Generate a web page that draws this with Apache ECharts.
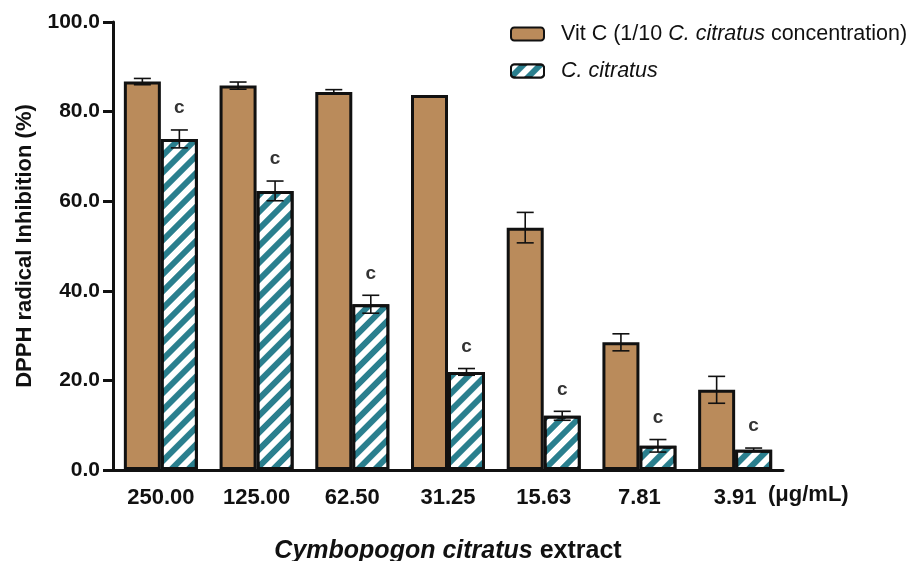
<!DOCTYPE html>
<html>
<head>
<meta charset="utf-8">
<script src="https://cdn.jsdelivr.net/npm/echarts@6/dist/echarts.min.js"></script>
<style>html,body{margin:0;padding:0;background:#fff}#c{width:916px;height:561px}</style>
</head>
<body>
<div id="c"></div>
<script>
var categories = ['250.00', '125.00', '62.50', '31.25', '15.63', '7.81', '3.91'];
var vitCMean = [86.7, 85.8, 84.4, 83.7, 54.1, 28.5, 17.9];
var vitCSD   = [0.7, 0.8, 0.5, 0.0, 3.4, 1.9, 3.0];
var citMean  = [73.9, 62.3, 37.0, 21.9, 12.1, 5.4, 4.5];
var citSD    = [2.0, 2.2, 2.0, 0.75, 1.0, 1.4, 0.4];
var sigLabels = ['c', 'c', 'c', 'c', 'c', 'c', 'c'];

var FONT = 'Liberation Sans, Arial, sans-serif';
var BROWN = '#BA8B5B';
var TEAL = '#2A7F8E';
var BAR_W = 37;

function errData(mean, sd) {
  return mean.map(function (m, i) { return [i, m, sd[i]]; });
}

function makeErr(offset, withSig) {
  return function (params, api) {
    var i = api.value(0), m = api.value(1), s = api.value(2);
    var top = api.coord([i, m + s]);
    var bot = api.coord([i, m - s]);
    var x = top[0] + offset;
    var cap = 8.5;
    var children = [];
    if (s > 0) {
      children.push(
        {type: 'line', shape: {x1: x, y1: top[1], x2: x, y2: bot[1]}, style: {stroke: '#111', lineWidth: 1.6}},
        {type: 'line', shape: {x1: x - cap, y1: top[1], x2: x + cap, y2: top[1]}, style: {stroke: '#111', lineWidth: 1.6}},
        {type: 'line', shape: {x1: x - cap, y1: bot[1], x2: x + cap, y2: bot[1]}, style: {stroke: '#111', lineWidth: 1.6}}
      );
    }
    if (withSig) {
      children.push({type: 'text', style: {text: sigLabels[i], x: x, y: top[1] - 22,
        textAlign: 'center', textVerticalAlign: 'middle',
        font: 'bold 19px ' + FONT, fill: '#333'}});
    }
    return {type: 'group', children: children};
  };
}

var chart = echarts.init(document.getElementById('c'), null, {renderer: 'canvas'});
chart.setOption({
  animation: false,
  backgroundColor: '#fff',
  grid: {left: 113, right: 133, top: 22, bottom: 91, containLabel: false, outerBoundsMode: 'none'},
  legend: {
    orient: 'vertical', left: 505, top: 18, itemWidth: 33, itemHeight: 13, itemGap: 15,
    data: ['Vit C', 'C. citratus'],
    formatter: function (n) {
      return n === 'Vit C' ? '{n|Vit C (1/10 }{i|C. citratus}{n| concentration)}' : '{i|C. citratus}';
    },
    textStyle: {
      fontFamily: FONT, fontSize: 21.5, color: '#111', padding: [0, 0, 0, 12],
      rich: {
        n: {fontFamily: FONT, fontSize: 21.5, color: '#111'},
        i: {fontFamily: FONT, fontSize: 21.5, fontStyle: 'italic', color: '#111'}
      }
    }
  },
  xAxis: {
    type: 'category', data: categories,
    axisLine: {lineStyle: {color: '#111', width: 3}},
    axisTick: {alignWithLabel: true, length: 8, lineStyle: {color: '#111', width: 3}},
    axisLabel: {fontFamily: FONT, fontSize: 22, fontWeight: 'bold', color: '#111', margin: 17},
    name: '{i|Cymbopogon citratus}{b| extract}',
    nameLocation: 'middle', nameGap: 69,
    nameTextStyle: {
      rich: {
        i: {fontFamily: FONT, fontSize: 25, fontWeight: 'bold', fontStyle: 'italic', color: '#111'},
        b: {fontFamily: FONT, fontSize: 25, fontWeight: 'bold', color: '#111'}
      }
    }
  },
  yAxis: {
    type: 'value', min: 0, max: 100, interval: 20,
    axisLine: {show: true, lineStyle: {color: '#111', width: 3}},
    axisTick: {show: true, length: 10, lineStyle: {color: '#111', width: 3}},
    splitLine: {show: false},
    axisLabel: {fontFamily: FONT, fontSize: 21, fontWeight: 'bold', color: '#111', margin: 13,
      formatter: function (v) { return v.toFixed(1); }},
    name: 'DPPH radical Inhibition (%)',
    nameLocation: 'middle', nameGap: 77,
    nameTextStyle: {fontFamily: FONT, fontSize: 22, fontWeight: 'bold', color: '#111'}
  },
  graphic: [{
    type: 'text', left: 768, top: 484,
    style: {text: '(μg/mL)', font: 'bold 22px ' + FONT, fill: '#111'}
  }],
  series: [
    {
      name: 'Vit C', type: 'bar', data: vitCMean, barWidth: BAR_W, barGap: '0%',
      itemStyle: {color: BROWN, borderColor: '#111', borderWidth: 3}
    },
    {
      name: 'C. citratus', type: 'bar', data: citMean, barWidth: BAR_W, barGap: '0%',
      itemStyle: {color: TEAL, borderColor: '#111', borderWidth: 3,
        decal: {symbol: 'rect', symbolSize: 1, dashArrayX: [1, 0], dashArrayY: [6, 6],
          rotation: -Math.PI / 4, color: '#fff'}}
    },
    {
      name: 'errVit', type: 'custom', renderItem: makeErr(-BAR_W / 2, false),
      data: errData(vitCMean, vitCSD), encode: {x: 0, y: 1}, z: 10, silent: true
    },
    {
      name: 'errCit', type: 'custom', renderItem: makeErr(BAR_W / 2, true),
      data: errData(citMean, citSD), encode: {x: 0, y: 1}, z: 10, silent: true
    }
  ]
});
</script>
</body>
</html>
